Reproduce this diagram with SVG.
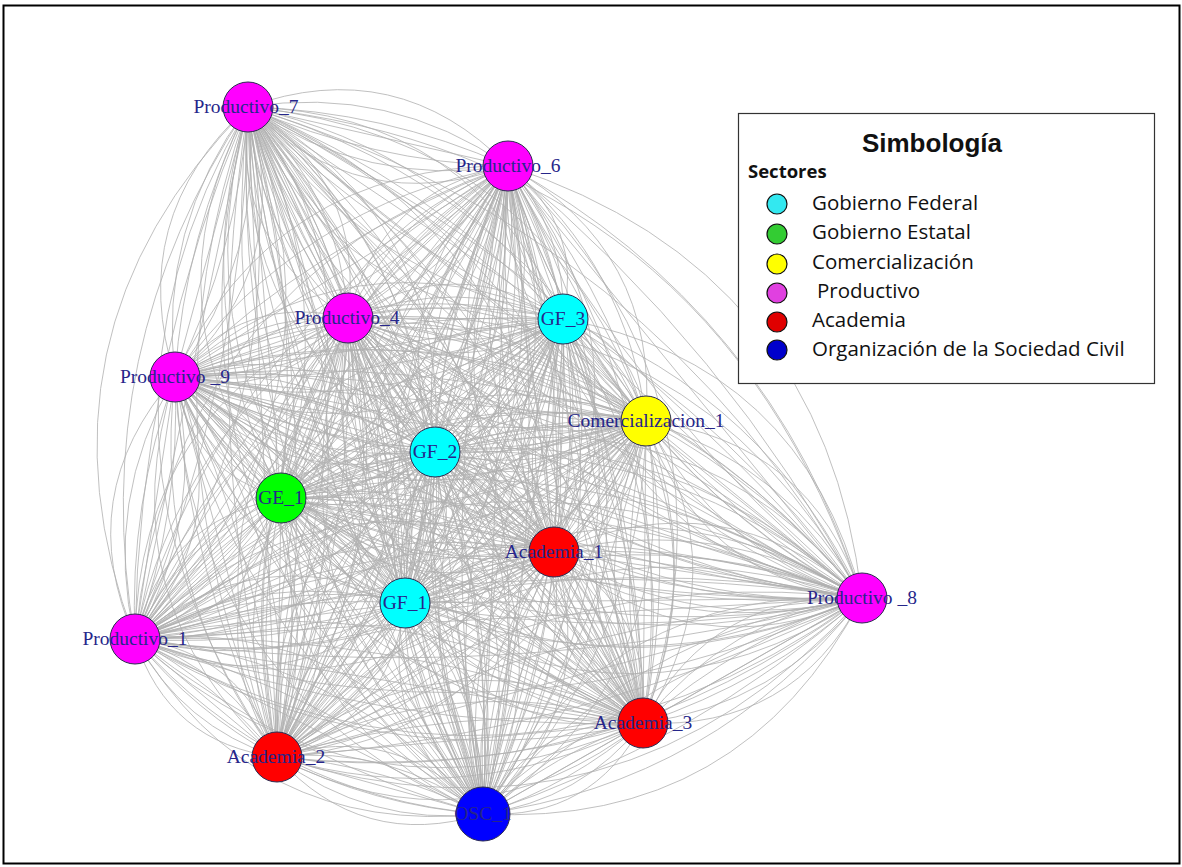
<svg xmlns="http://www.w3.org/2000/svg" xmlns:xlink="http://www.w3.org/1999/xlink" width="1182" height="867" viewBox="0 0 1182 867">
<style>
.e path{fill:none;stroke:#b0b0b0;stroke-width:0.8;vector-effect:non-scaling-stroke}
.n circle{stroke:#2a2a50;stroke-width:1}
.n text{font-family:"Liberation Serif","Times New Roman",serif;font-size:19.5px;fill:#26268a;text-anchor:middle}
.lg text{font-family:"Open Sans","Noto Sans",sans-serif;font-size:20.5px;fill:#111}
.lg circle{stroke:#111;stroke-width:1.2}
</style>
<defs>
<g id="b" class="e">
<path d="M0,0 Q0.5,0 1,0"/>
<path d="M0,0 Q0.5,0.1 1,0"/>
<path d="M0,0 Q0.5,-0.1 1,0"/>
<path d="M0,0 Q0.5,0.2 1,0"/>
<path d="M0,0 Q0.5,-0.2 1,0"/>
<path d="M0,0 Q0.5,0.32 1,0"/>
<path d="M0,0 Q0.5,-0.32 1,0"/>
</g>
</defs>
<rect x="0" y="0" width="1182" height="867" fill="#fff"/>
<rect x="3.5" y="5.5" width="1176" height="858" fill="none" stroke="#000" stroke-width="2"/>
<g id="connectors">
<use href="#b" transform="matrix(260,59,-59,260,248,107)"/>
<use href="#b" transform="matrix(100,211,-211,100,248,107)"/>
<use href="#b" transform="matrix(315,212,-212,315,248,107)"/>
<use href="#b" transform="matrix(-73,270,-270,-73,248,107)"/>
<use href="#b" transform="matrix(398,314,-314,398,248,107)"/>
<use href="#b" transform="matrix(187,345,-345,187,248,107)"/>
<use href="#b" transform="matrix(33,391,-391,33,248,107)"/>
<use href="#b" transform="matrix(306,445,-445,306,248,107)"/>
<use href="#b" transform="matrix(157,496,-496,157,248,107)"/>
<use href="#b" transform="matrix(614,491,-491,614,248,107)"/>
<use href="#b" transform="matrix(-113,532,-532,-113,248,107)"/>
<use href="#b" transform="matrix(395,616,-616,395,248,107)"/>
<use href="#b" transform="matrix(29,650,-650,29,248,107)"/>
<use href="#b" transform="matrix(235,707,-707,235,248,107)"/>
<use href="#b" transform="matrix(-160,152,-152,-160,508,166)"/>
<use href="#b" transform="matrix(55,153,-153,55,508,166)"/>
<use href="#b" transform="matrix(-333,211,-211,-333,508,166)"/>
<use href="#b" transform="matrix(138,255,-255,138,508,166)"/>
<use href="#b" transform="matrix(-73,286,-286,-73,508,166)"/>
<use href="#b" transform="matrix(-227,332,-332,-227,508,166)"/>
<use href="#b" transform="matrix(46,386,-386,46,508,166)"/>
<use href="#b" transform="matrix(-103,437,-437,-103,508,166)"/>
<use href="#b" transform="matrix(354,432,-432,354,508,166)"/>
<use href="#b" transform="matrix(-373,473,-473,-373,508,166)"/>
<use href="#b" transform="matrix(135,557,-557,135,508,166)"/>
<use href="#b" transform="matrix(-231,591,-591,-231,508,166)"/>
<use href="#b" transform="matrix(-25,648,-648,-25,508,166)"/>
<use href="#b" transform="matrix(215,1,-1,215,348,318)"/>
<use href="#b" transform="matrix(-173,59,-59,-173,348,318)"/>
<use href="#b" transform="matrix(298,103,-103,298,348,318)"/>
<use href="#b" transform="matrix(87,134,-134,87,348,318)"/>
<use href="#b" transform="matrix(-67,180,-180,-67,348,318)"/>
<use href="#b" transform="matrix(206,234,-234,206,348,318)"/>
<use href="#b" transform="matrix(57,285,-285,57,348,318)"/>
<use href="#b" transform="matrix(514,280,-280,514,348,318)"/>
<use href="#b" transform="matrix(-213,321,-321,-213,348,318)"/>
<use href="#b" transform="matrix(295,405,-405,295,348,318)"/>
<use href="#b" transform="matrix(-71,439,-439,-71,348,318)"/>
<use href="#b" transform="matrix(135,496,-496,135,348,318)"/>
<use href="#b" transform="matrix(-388,58,-58,-388,563,319)"/>
<use href="#b" transform="matrix(83,102,-102,83,563,319)"/>
<use href="#b" transform="matrix(-128,133,-133,-128,563,319)"/>
<use href="#b" transform="matrix(-282,179,-179,-282,563,319)"/>
<use href="#b" transform="matrix(-9,233,-233,-9,563,319)"/>
<use href="#b" transform="matrix(-158,284,-284,-158,563,319)"/>
<use href="#b" transform="matrix(299,279,-279,299,563,319)"/>
<use href="#b" transform="matrix(-428,320,-320,-428,563,319)"/>
<use href="#b" transform="matrix(80,404,-404,80,563,319)"/>
<use href="#b" transform="matrix(-286,438,-438,-286,563,319)"/>
<use href="#b" transform="matrix(-80,495,-495,-80,563,319)"/>
<use href="#b" transform="matrix(471,44,-44,471,175,377)"/>
<use href="#b" transform="matrix(260,75,-75,260,175,377)"/>
<use href="#b" transform="matrix(106,121,-121,106,175,377)"/>
<use href="#b" transform="matrix(379,175,-175,379,175,377)"/>
<use href="#b" transform="matrix(230,226,-226,230,175,377)"/>
<use href="#b" transform="matrix(687,221,-221,687,175,377)"/>
<use href="#b" transform="matrix(-40,262,-262,-40,175,377)"/>
<use href="#b" transform="matrix(468,346,-346,468,175,377)"/>
<use href="#b" transform="matrix(102,380,-380,102,175,377)"/>
<use href="#b" transform="matrix(308,437,-437,308,175,377)"/>
<use href="#b" transform="matrix(-211,31,-31,-211,646,421)"/>
<use href="#b" transform="matrix(-365,77,-77,-365,646,421)"/>
<use href="#b" transform="matrix(-92,131,-131,-92,646,421)"/>
<use href="#b" transform="matrix(-241,182,-182,-241,646,421)"/>
<use href="#b" transform="matrix(216,177,-177,216,646,421)"/>
<use href="#b" transform="matrix(-511,218,-218,-511,646,421)"/>
<use href="#b" transform="matrix(-3,302,-302,-3,646,421)"/>
<use href="#b" transform="matrix(-369,336,-336,-369,646,421)"/>
<use href="#b" transform="matrix(-163,393,-393,-163,646,421)"/>
<use href="#b" transform="matrix(-154,46,-46,-154,435,452)"/>
<use href="#b" transform="matrix(119,100,-100,119,435,452)"/>
<use href="#b" transform="matrix(-30,151,-151,-30,435,452)"/>
<use href="#b" transform="matrix(427,146,-146,427,435,452)"/>
<use href="#b" transform="matrix(-300,187,-187,-300,435,452)"/>
<use href="#b" transform="matrix(208,271,-271,208,435,452)"/>
<use href="#b" transform="matrix(-158,305,-305,-158,435,452)"/>
<use href="#b" transform="matrix(48,362,-362,48,435,452)"/>
<use href="#b" transform="matrix(273,54,-54,273,281,498)"/>
<use href="#b" transform="matrix(124,105,-105,124,281,498)"/>
<use href="#b" transform="matrix(581,100,-100,581,281,498)"/>
<use href="#b" transform="matrix(-146,141,-141,-146,281,498)"/>
<use href="#b" transform="matrix(362,225,-225,362,281,498)"/>
<use href="#b" transform="matrix(-4,259,-259,-4,281,498)"/>
<use href="#b" transform="matrix(202,316,-316,202,281,498)"/>
<use href="#b" transform="matrix(-149,51,-51,-149,554,552)"/>
<use href="#b" transform="matrix(308,46,-46,308,554,552)"/>
<use href="#b" transform="matrix(-419,87,-87,-419,554,552)"/>
<use href="#b" transform="matrix(89,171,-171,89,554,552)"/>
<use href="#b" transform="matrix(-277,205,-205,-277,554,552)"/>
<use href="#b" transform="matrix(-71,262,-262,-71,554,552)"/>
<use href="#b" transform="matrix(457,-5,5,457,405,603)"/>
<use href="#b" transform="matrix(-270,36,-36,-270,405,603)"/>
<use href="#b" transform="matrix(238,120,-120,238,405,603)"/>
<use href="#b" transform="matrix(-128,154,-154,-128,405,603)"/>
<use href="#b" transform="matrix(78,211,-211,78,405,603)"/>
<use href="#b" transform="matrix(-727,41,-41,-727,862,598)"/>
<use href="#b" transform="matrix(-219,125,-125,-219,862,598)"/>
<use href="#b" transform="matrix(-585,159,-159,-585,862,598)"/>
<use href="#b" transform="matrix(-379,216,-216,-379,862,598)"/>
<use href="#b" transform="matrix(508,84,-84,508,135,639)"/>
<use href="#b" transform="matrix(142,118,-118,142,135,639)"/>
<use href="#b" transform="matrix(348,175,-175,348,135,639)"/>
<use href="#b" transform="matrix(-366,34,-34,-366,643,723)"/>
<use href="#b" transform="matrix(-160,91,-91,-160,643,723)"/>
<use href="#b" transform="matrix(206,57,-57,206,277,757)"/>
</g>
<g id="node-productivo7" class="n"><circle cx="248" cy="107" r="25" fill="#ff00ff"/><text x="246" y="113">Productivo_7</text></g>
<g id="node-productivo6" class="n"><circle cx="508" cy="166" r="25" fill="#ff00ff"/><text x="508" y="172">Productivo_6</text></g>
<g id="node-productivo4" class="n"><circle cx="348" cy="318" r="25" fill="#ff00ff"/><text x="347" y="324">Productivo_4</text></g>
<g id="node-gf3" class="n"><circle cx="563" cy="319" r="25" fill="#00ffff"/><text x="563" y="325">GF_3</text></g>
<g id="node-productivo9" class="n"><circle cx="175" cy="377" r="25" fill="#ff00ff"/><text x="175" y="383">Productivo _9</text></g>
<g id="node-comercializacion1" class="n"><circle cx="646" cy="421" r="25" fill="#ffff00"/><text x="646" y="427">Comercializacion_1</text></g>
<g id="node-gf2" class="n"><circle cx="435" cy="452" r="25" fill="#00ffff"/><text x="435" y="458">GF_2</text></g>
<g id="node-ge1" class="n"><circle cx="281" cy="498" r="25" fill="#00ff00"/><text x="281" y="504">GE_1</text></g>
<g id="node-academia1" class="n"><circle cx="554" cy="552" r="25" fill="#ff0000"/><text x="554" y="558">Academia_1</text></g>
<g id="node-gf1" class="n"><circle cx="405" cy="603" r="25" fill="#00ffff"/><text x="405" y="609">GF_1</text></g>
<g id="node-productivo8" class="n"><circle cx="862" cy="598" r="25" fill="#ff00ff"/><text x="862" y="604">Productivo _8</text></g>
<g id="node-productivo1" class="n"><circle cx="135" cy="639" r="25" fill="#ff00ff"/><text x="135" y="645">Productivo_1</text></g>
<g id="node-academia3" class="n"><circle cx="643" cy="723" r="25" fill="#ff0000"/><text x="643" y="729">Academia_3</text></g>
<g id="node-academia2" class="n"><circle cx="277" cy="757" r="25" fill="#ff0000"/><text x="276" y="763">Academia_2</text></g>
<g id="node-osc" class="n"><circle cx="483" cy="814" r="27" fill="#0000ff"/><text x="483" y="820">OSC_1</text></g>
<g id="legend" class="lg">
<rect x="738.5" y="113.5" width="416" height="270" fill="#fff" stroke="#333" stroke-width="1.2"/>
<text x="932" y="152" text-anchor="middle" style="font-family:'Liberation Sans',Arial,sans-serif;font-weight:bold;font-size:26px">Simbología</text>
<text x="748" y="178" style="font-weight:bold;font-size:18.5px">Sectores</text>
<circle cx="777" cy="204" r="10" fill="#33e8f0"/><text x="812" y="210">Gobierno Federal</text>
<circle cx="777" cy="234" r="10" fill="#33cc33"/><text x="812" y="239">Gobierno Estatal</text>
<circle cx="777" cy="264" r="10" fill="#ffff00"/><text x="812" y="269">Comercialización</text>
<circle cx="777" cy="293" r="10" fill="#e040e0"/><text x="817" y="298">Productivo</text>
<circle cx="777" cy="322" r="10" fill="#e00000"/><text x="812" y="327">Academia</text>
<circle cx="777" cy="350" r="10" fill="#0000cc"/><text x="812" y="356">Organización de la Sociedad Civil</text>
</g>
</svg>
